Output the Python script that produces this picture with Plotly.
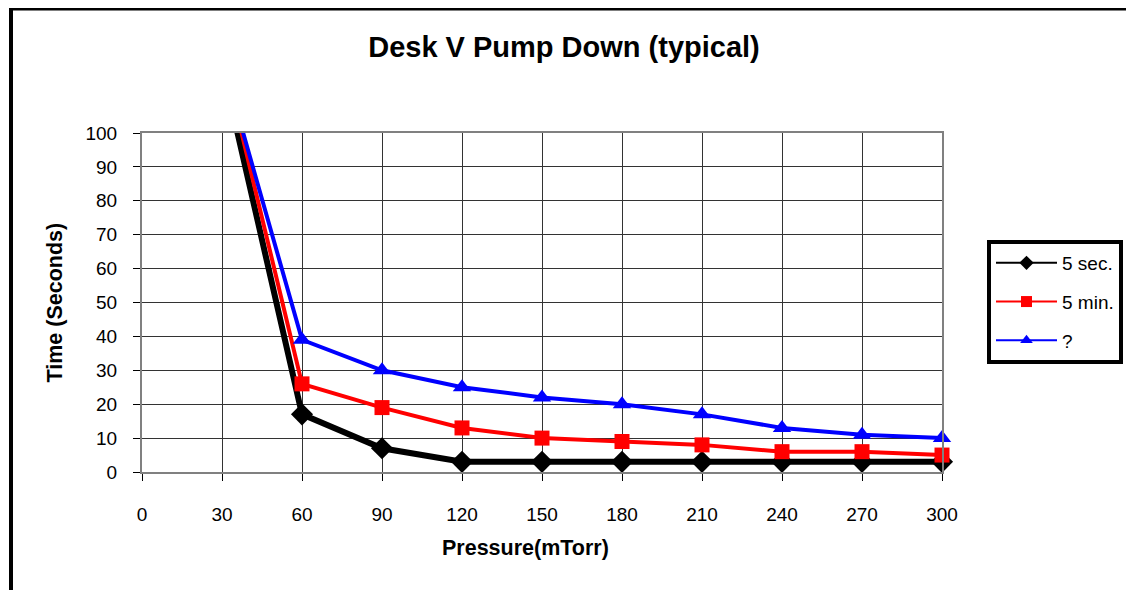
import plotly.graph_objects as go

pressure = [30, 60, 90, 120, 150, 180, 210, 240, 270, 300]
sec5 = [120, 17, 7, 3, 3, 3, 3, 3, 3, 3]
min5 = [124, 26, 19, 13, 10, 9, 8, 6, 6, 5]
unknown = [122, 39, 30, 25, 22, 20, 17, 13, 11, 10]
series_names = ["5 sec.", "5 min.", "?"]
x_ticks = [0, 30, 60, 90, 120, 150, 180, 210, 240, 270, 300]
y_ticks = [0, 10, 20, 30, 40, 50, 60, 70, 80, 90, 100]

FONT = "Liberation Sans, Arial, sans-serif"
W, H = 1134, 590
OFF = 8  # page offset of the figure in the browser
L, R, T, B = 142 - OFF, 942 - OFF, 133 - OFF, 472 - OFF

def px(xp):
    return (xp - OFF - L) / (R - L)

def py(yp):
    return (B - (yp - OFF)) / (B - T)

def msizes(vals, s):
    return [0 if v > 100 else s for v in vals]

styles = [
    dict(color="#000000", width=6, symbol="diamond", size=17),
    dict(color="#ff0000", width=4, symbol="square", size=15),
    dict(color="#0000ff", width=4, symbol="triangle-up", size=16),
]
data = [sec5, min5, unknown]

fig = go.Figure()
for name, vals, st in zip(series_names, data, styles):
    fig.add_trace(go.Scatter(
        x=pressure, y=vals, name=name, mode="lines+markers", showlegend=False,
        legendgroup=name,
        line=dict(color=st["color"], width=st["width"]),
        marker=dict(symbol=st["symbol"], size=msizes(vals, st["size"]),
                    color=st["color"], opacity=1, line=dict(width=0)),
        cliponaxis=False))
# legend entries (thin lines as in the reference legend)
for name, st in zip(series_names, styles):
    fig.add_trace(go.Scatter(
        x=[None], y=[None], name=name, mode="lines+markers", legendgroup=name,
        line=dict(color=st["color"], width=2),
        marker=dict(symbol=st["symbol"], size=11, color=st["color"], opacity=1,
                    line=dict(width=0))))

fig.update_layout(
    width=W, height=H,
    margin=dict(l=L, r=W - R, t=T, b=H - B, pad=0),
    paper_bgcolor="white", plot_bgcolor="white",
    font=dict(family=FONT, color="black", size=19),
    title=dict(text="<b>Desk V Pump Down (typical)</b>", font=dict(size=29, family=FONT),
               x=(564 - OFF) / W, xanchor="center", y=1 - (47 - OFF) / H, yanchor="middle"),
    showlegend=True,
    legend=dict(x=px(987), xanchor="left", y=py(240), yanchor="top",
                bordercolor="black", borderwidth=4, bgcolor="white",
                font=dict(size=19, family=FONT), itemwidth=61,
                traceorder="grouped", tracegroupgap=11),
    xaxis=dict(range=[0, 300], tickvals=x_ticks, ticktext=[str(v) for v in x_ticks],
               showgrid=True, gridcolor="#333333", gridwidth=1,
               showline=True, linecolor="#808080", linewidth=2, mirror=True,
               ticks="outside", ticklen=7, tickcolor="black", tickwidth=1,
               ticklabelstandoff=17, zeroline=False,
               tickfont=dict(size=19, family=FONT)),
    yaxis=dict(range=[0, 100], tickvals=y_ticks, ticktext=[str(v) for v in y_ticks],
               showgrid=True, gridcolor="#333333", gridwidth=1,
               showline=True, linecolor="#808080", linewidth=2, mirror=True,
               ticks="outside", ticklen=7, tickcolor="black", tickwidth=1,
               ticklabelstandoff=12, zeroline=False,
               tickfont=dict(size=19, family=FONT)),
)

fig.add_annotation(text="<b>Time (Seconds)</b>", textangle=-90, xref="paper", yref="paper",
                   x=px(54), y=0.5, xanchor="center", yanchor="middle", showarrow=False,
                   font=dict(size=21.5, family=FONT))
fig.add_annotation(text="<b>Pressure(mTorr)</b>", xref="paper", yref="paper",
                   x=px(525), y=py(548), xanchor="center", yanchor="middle", showarrow=False,
                   font=dict(size=21.5, family=FONT))

# outer chart frame (left and top edges visible)
fig.add_shape(type="line", xref="paper", yref="paper", x0=px(11), x1=px(11),
              y0=py(620), y1=py(6.5), line=dict(color="black", width=4))
fig.add_shape(type="line", xref="paper", yref="paper", x0=px(9), x1=px(1160),
              y0=py(8.5), y1=py(8.5), line=dict(color="black", width=4))

fig.write_html("out.html")
